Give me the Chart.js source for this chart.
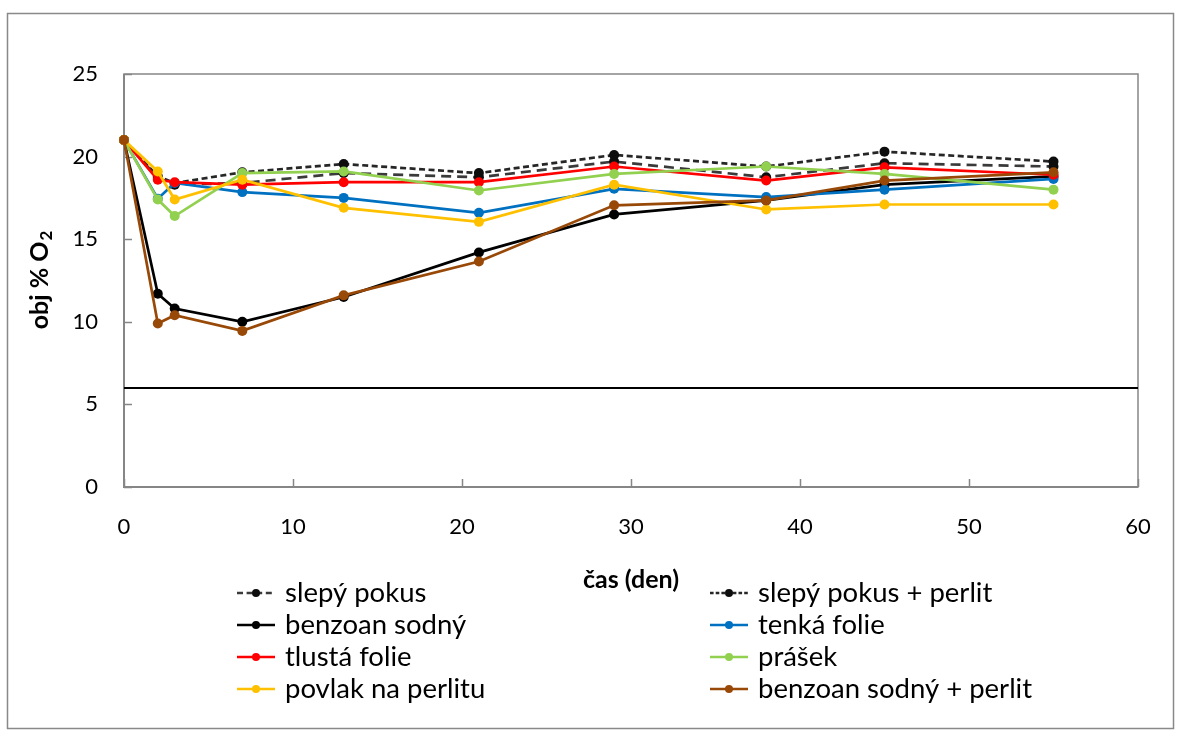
<!DOCTYPE html>
<html>
<head>
<meta charset="utf-8">
<script src="https://cdn.jsdelivr.net/npm/chart.js@4/dist/chart.umd.min.js"></script>
<style>
  html, body { margin: 0; padding: 0; background: #ffffff; }
  #wrap { position: relative; width: 1181px; height: 735px; }
</style>
</head>
<body>
<div id="wrap"><canvas id="c" width="1181" height="735"></canvas></div>
<script>
// Měření obsahu kyslíku (obj % O2) v čase
const days = [0, 2, 3, 7, 13, 21, 29, 38, 45, 55];

const slepyPokus         = [21.0, 18.7, 18.3, 18.4, 19.0, 18.75, 19.7, 18.75, 19.6, 19.4];
const slepyPokusPerlit   = [21.0, 18.8, 18.4, 19.05, 19.55, 19.0, 20.1, 19.4, 20.3, 19.7];
const benzoanSodny       = [21.0, 11.7, 10.8, 10.0, 11.5, 14.2, 16.5, 17.35, 18.3, 18.8];
const tenkaFolie         = [21.0, 17.45, 18.4, 17.85, 17.5, 16.6, 18.05, 17.55, 18.0, 18.65];
const tlustaFolie        = [21.0, 18.6, 18.45, 18.3, 18.45, 18.45, 19.4, 18.55, 19.35, 18.9];
const prasek             = [21.0, 17.4, 16.4, 19.0, 19.1, 17.95, 18.95, 19.4, 18.95, 18.0];
const povlakNaPerlitu    = [21.0, 19.1, 17.4, 18.6, 16.9, 16.05, 18.3, 16.8, 17.1, 17.1];
const benzoanSodnyPerlit = [21.0, 9.9, 10.4, 9.45, 11.6, 13.65, 17.05, 17.35, 18.55, 19.05];

const seriesNames = [
  'slepý pokus', 'slepý pokus + perlit', 'benzoan sodný', 'tenká folie',
  'tlustá folie', 'prášek', 'povlak na perlitu', 'benzoan sodný + perlit'
];
const seriesValues = [
  slepyPokus, slepyPokusPerlit, benzoanSodny, tenkaFolie,
  tlustaFolie, prasek, povlakNaPerlitu, benzoanSodnyPerlit
];

const xTicks = [0, 10, 20, 30, 40, 50, 60];
const yTicks = [0, 5, 10, 15, 20, 25];
const limitLevel = 6;      // vodorovná mez
const limitSpan = [0, 60];

const xTitle = 'čas (den)';
const yTitleMain = 'obj % O';
const yTitleSub = '2';

// vzhled řad
const lineColors  = ['#3a3a3a', '#262626', '#000000', '#0070C0', '#FF0000', '#92D050', '#FFC000', '#984807'];
const pointColors = ['#0d0d0d', '#0d0d0d', '#000000', '#0070C0', '#FF0000', '#92D050', '#FFC000', '#984807'];
const dashes      = [[10, 6], [6, 3.5], [], [], [], [], [], []];

const FONT = 'Lato, "Open Sans", "Liberation Sans", sans-serif';
const AXIS_GRAY = '#868686';

const datasets = seriesValues.map((vals, i) => ({
  label: seriesNames[i],
  data: days.map((d, k) => ({ x: d, y: vals[k] })),
  borderColor: lineColors[i],
  backgroundColor: pointColors[i],
  pointBackgroundColor: pointColors[i],
  pointBorderColor: pointColors[i],
  pointBorderWidth: 0,
  pointRadius: 5,
  borderWidth: 2.7,
  borderDash: dashes[i],
  showLine: true,
  tension: 0,
  clip: false,
  order: seriesValues.length - i
}));

datasets.push({
  label: 'limit',
  data: limitSpan.map(x => ({ x: x, y: limitLevel })),
  borderColor: '#000000',
  borderWidth: 2,
  pointRadius: 0,
  showLine: true,
  clip: false,
  order: 20
});

const decorations = {
  id: 'decorations',
  beforeDraw(chart) {
    const ctx = chart.ctx;
    ctx.save();
    ctx.fillStyle = '#ffffff';
    ctx.fillRect(0, 0, chart.width, chart.height);
    ctx.strokeStyle = '#898989';
    ctx.lineWidth = 1.5;
    ctx.strokeRect(7.5, 13.5, 1166, 715);
    ctx.restore();
  },
  beforeDatasetsDraw(chart) {
    const ctx = chart.ctx;
    const a = chart.chartArea;
    const xs = chart.scales.x, ys = chart.scales.y;
    ctx.save();
    ctx.strokeStyle = AXIS_GRAY;
    ctx.lineWidth = 1.5;
    ctx.strokeRect(a.left, a.top, a.right - a.left, a.bottom - a.top);
    ctx.lineWidth = 2;
    ctx.beginPath();
    ctx.moveTo(a.left, a.top); ctx.lineTo(a.left, a.bottom); ctx.lineTo(a.right, a.bottom);
    ctx.stroke();
    ctx.lineWidth = 1.5;
    ctx.beginPath();
    yTicks.forEach(v => {
      const y = Math.round(ys.getPixelForValue(v)) + 0.5;
      ctx.moveTo(a.left, y); ctx.lineTo(a.left + 8, y);
    });
    xTicks.forEach(v => {
      const x = Math.round(xs.getPixelForValue(v)) + 0.5;
      ctx.moveTo(x, a.bottom); ctx.lineTo(x, a.bottom - 8);
    });
    ctx.stroke();
    ctx.restore();
  },
  afterDraw(chart) {
    const ctx = chart.ctx;
    const a = chart.chartArea;
    ctx.save();
    // název osy y
    ctx.translate(40, (a.top + a.bottom) / 2);
    ctx.rotate(-Math.PI / 2);
    ctx.fillStyle = '#000000';
    ctx.textBaseline = 'middle';
    ctx.font = 'bold 25px ' + FONT;
    const wMain = ctx.measureText(yTitleMain).width;
    ctx.font = 'bold 17px ' + FONT;
    const wSub = ctx.measureText(yTitleSub).width;
    const start = -(wMain + wSub) / 2;
    ctx.font = 'bold 25px ' + FONT;
    ctx.textAlign = 'left';
    ctx.fillText(yTitleMain, start, 0);
    ctx.font = 'bold 17px ' + FONT;
    ctx.fillText(yTitleSub, start + wMain + 1, 7);
    ctx.restore();

    // legenda ve dvou sloupcích
    ctx.save();
    const colX = [237, 710];
    const rowY = [593, 625, 657, 689];
    const lineLen = 38;
    chart.data.datasets.slice(0, seriesNames.length).forEach((ds, i) => {
      const col = i % 2, row = Math.floor(i / 2);
      const x0 = colX[col], y = rowY[row];
      ctx.strokeStyle = ds.borderColor;
      ctx.lineWidth = 2.7;
      ctx.setLineDash(ds.borderDash.length ? [ds.borderDash[0] * 0.6, ds.borderDash[1] * 0.6] : []);
      ctx.beginPath();
      ctx.moveTo(x0, y); ctx.lineTo(x0 + lineLen, y);
      ctx.stroke();
      ctx.setLineDash([]);
      ctx.fillStyle = ds.pointBackgroundColor;
      ctx.beginPath();
      ctx.arc(x0 + lineLen / 2, y, 4, 0, Math.PI * 2);
      ctx.fill();
      ctx.fillStyle = '#000000';
      ctx.font = '27.5px ' + FONT;
      ctx.textAlign = 'left';
      ctx.textBaseline = 'middle';
      ctx.fillText(ds.label, x0 + lineLen + 10, y);
    });
    ctx.restore();
  }
};

new Chart(document.getElementById('c'), {
  type: 'scatter',
  data: { datasets: datasets },
  options: {
    responsive: false,
    animation: false,
    devicePixelRatio: 1,
    layout: { padding: { left: 0, top: 74, right: 43, bottom: 0 } },
    plugins: { legend: { display: false }, tooltip: { enabled: false } },
    scales: {
      x: {
        type: 'linear',
        min: xTicks[0], max: xTicks[xTicks.length - 1],
        afterBuildTicks(s) { s.ticks = xTicks.map(v => ({ value: v })); },
        afterFit(s) { s.height = 248; },
        grid: { display: false, drawTicks: false },
        border: { display: false },
        ticks: { color: '#000000', font: { family: FONT, size: 22 }, padding: 27, maxRotation: 0 },
        title: {
          display: true, text: xTitle, color: '#000000',
          font: { family: FONT, size: 25, weight: 'bold' },
          padding: { top: 0, bottom: 140 }
        }
      },
      y: {
        type: 'linear',
        min: yTicks[0], max: yTicks[yTicks.length - 1],
        afterBuildTicks(s) { s.ticks = yTicks.map(v => ({ value: v })); },
        afterFit(s) { s.width = 124; },
        grid: { display: false, drawTicks: false },
        border: { display: false },
        ticks: { color: '#000000', font: { family: FONT, size: 22 }, padding: 26 }
      }
    }
  },
  plugins: [decorations]
});
</script>
</body>
</html>
